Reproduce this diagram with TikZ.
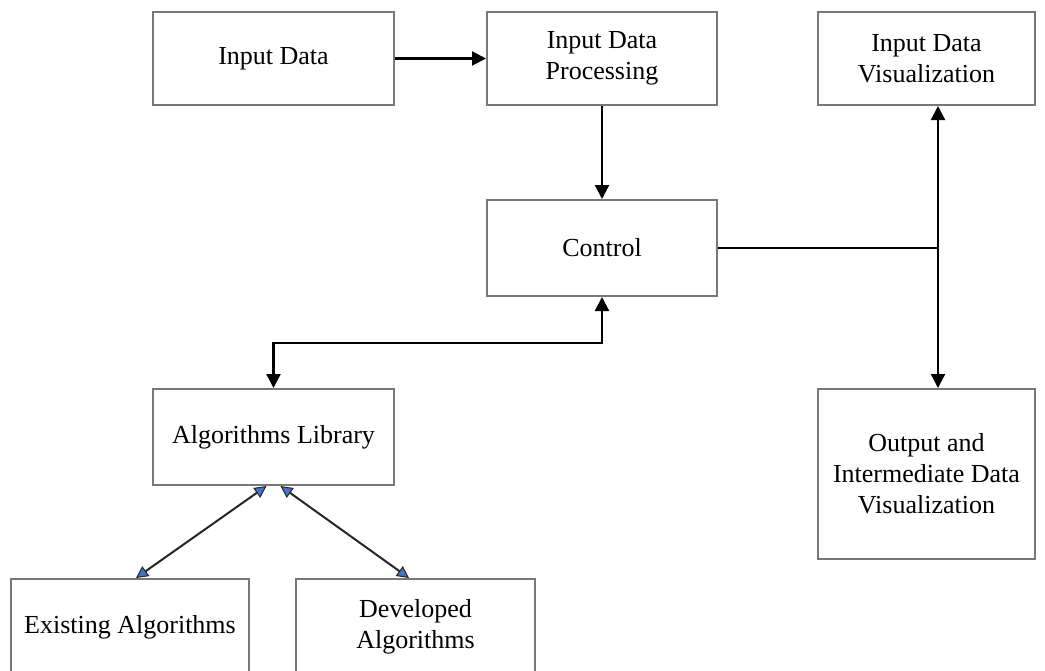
\documentclass[tikz,border=0pt]{standalone}
\usepackage{fontspec}
\setmainfont{Liberation Serif}
\usetikzlibrary{arrows.meta}
\definecolor{boxgray}{RGB}{120,120,120}
\definecolor{arrowblue}{RGB}{68,114,196}
\begin{document}
\begin{tikzpicture}[x=1pt,y=-1pt,
  box/.style={draw=boxgray, line width=2pt, rectangle, align=center,
    inner sep=0pt, font=\fontsize{26}{31}\selectfont},
  conn/.style={line width=2.2pt, draw=black},
  blk/.style={conn, -{Triangle[length=14pt,width=14pt]}},
  blk2/.style={conn, {Triangle[length=14pt,width=14pt]}-{Triangle[length=14pt,width=14pt]}},
  blu/.style={line width=2pt, draw=black!85,
    {Triangle[length=12pt,width=12pt,fill=arrowblue,line width=1pt]}-{Triangle[length=12pt,width=12pt,fill=arrowblue,line width=1pt]}}
]
\useasboundingbox (0,0) rectangle (1045,670);
\begin{scope}
\clip (0,0) rectangle (1045,670);
\node[box, minimum width=241pt, minimum height=93pt] (inp) at (273.5,58.5) {Input Data};
\node[box, minimum width=230pt, minimum height=93pt] (proc) at (602,58.5) {Input Data\\Processing};
\node[box, minimum width=217pt, minimum height=93pt] (vis) at (926.5,58.5) {Input Data\\Visualization};
\node[box, minimum width=230pt, minimum height=96pt] (ctrl) at (602,248) {Control};
\node[box, minimum width=241pt, minimum height=96pt] (lib) at (273.5,437) {Algorithms Library};
\node[box, minimum width=217pt, minimum height=170pt] (out) at (926.5,474) {Output and\\Intermediate Data\\Visualization};
\node[box, minimum width=238pt, minimum height=96pt] (exist) at (130,627) {Existing Algorithms};
\node[box, minimum width=239pt, minimum height=96pt] (dev) at (415.5,627) {Developed\\Algorithms};
\end{scope}
\coordinate (j) at (938,248);
\coordinate (m) at (602,343);
\draw[blk] (inp.east) -- (proc.west);
\draw[blk] (proc.south) -- (ctrl.north);
\draw[conn] (ctrl.east) -- (j);
\draw[blk] (j) -- (vis.south -| j);
\draw[blk] (j) -- (out.north -| j);
\draw[blk2] (ctrl.south) -- (m) -| (lib.north);
\draw[blu] ([xshift=-7pt]lib.south) -- ([xshift=6pt]exist.north);
\draw[blu] ([xshift=7pt]lib.south) -- ([xshift=-6.5pt]dev.north);
\end{tikzpicture}
\end{document}
